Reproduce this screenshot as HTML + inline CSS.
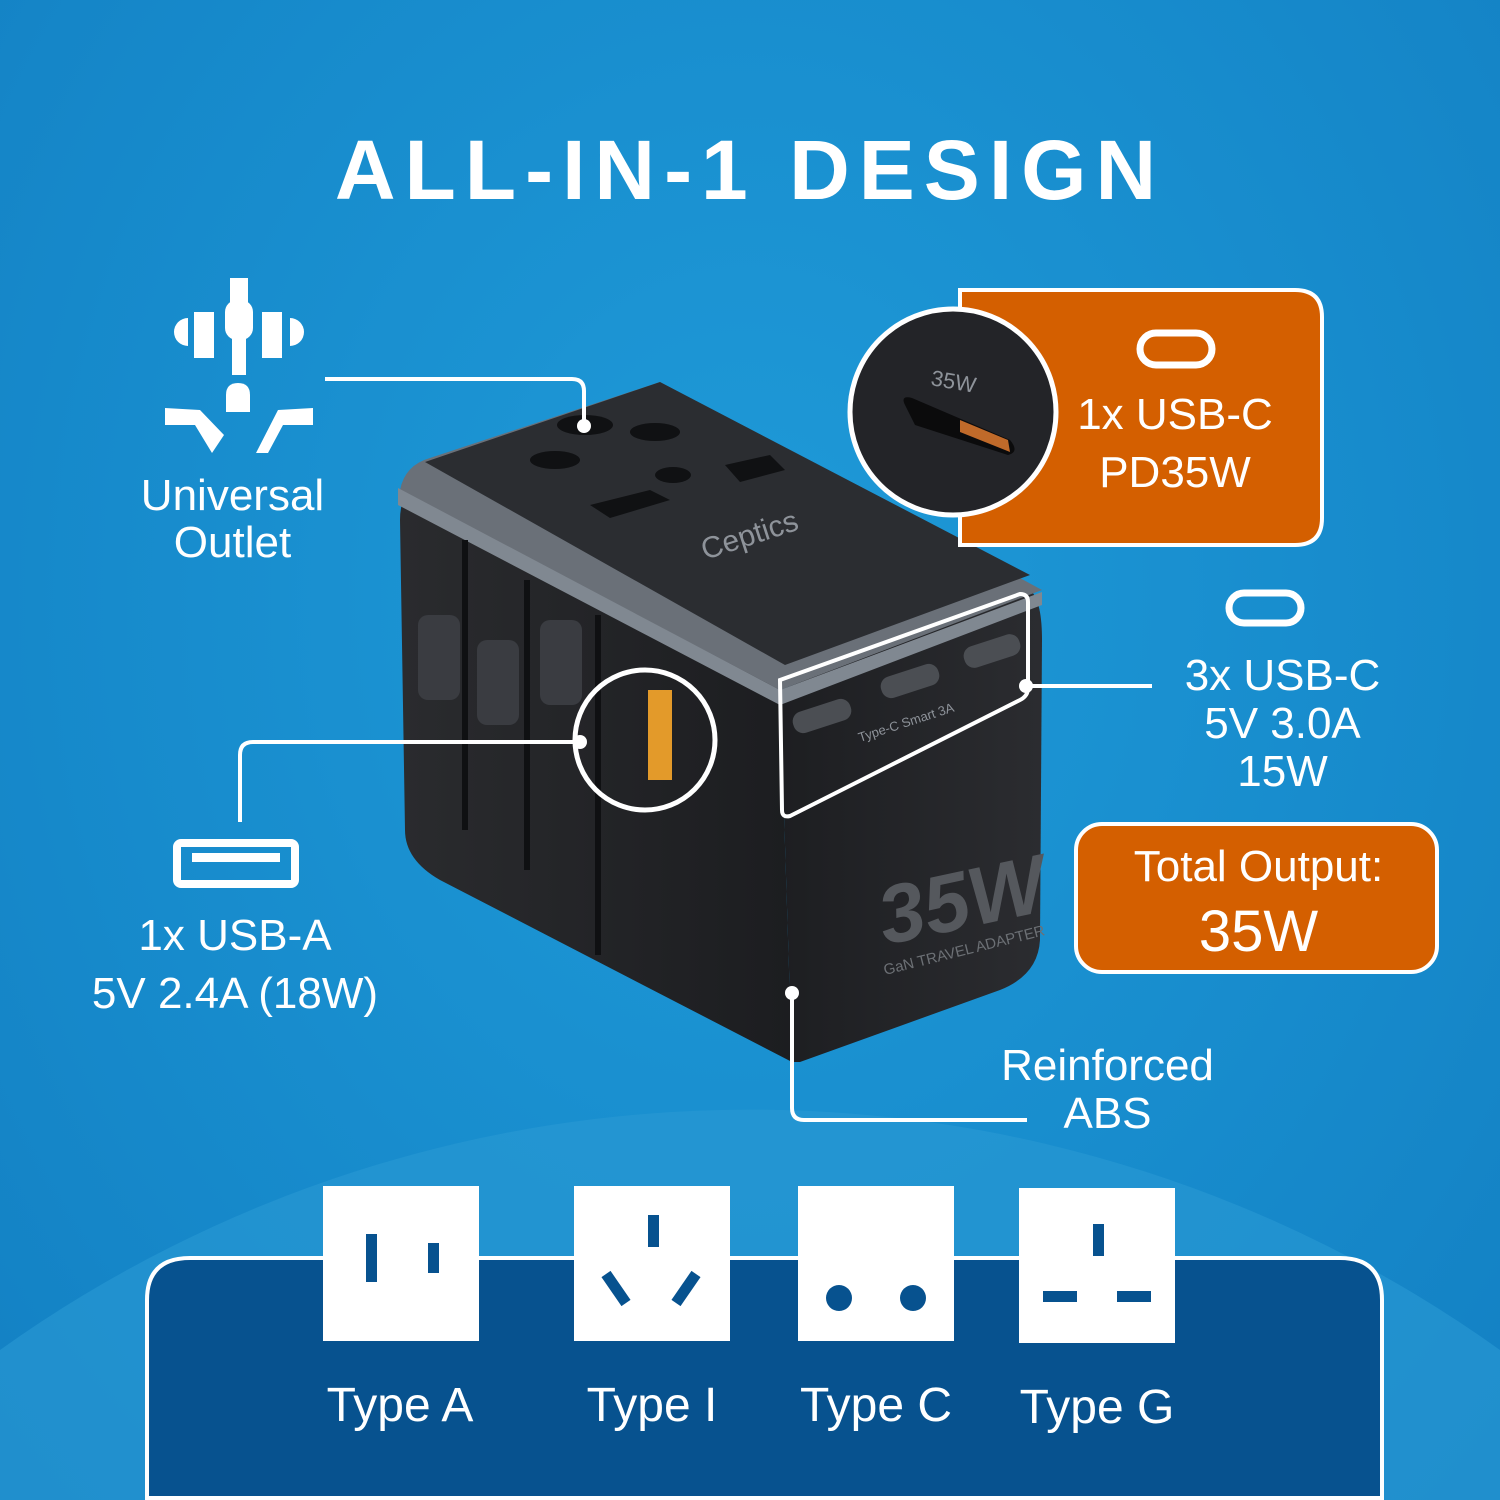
<!DOCTYPE html>
<html><head><meta charset="utf-8"><style>
html,body{margin:0;padding:0;width:1500px;height:1500px;overflow:hidden}
body{position:relative;background:radial-gradient(ellipse at 50% 40%,#1f9ad8 0%,#178bcc 60%,#1380c3 100%);font-family:"Liberation Sans",sans-serif;color:#fff}
.t{position:absolute;text-align:center;white-space:nowrap}
svg{overflow:hidden;display:block}
</style></head><body>
<svg width="1500" height="1500" viewBox="0 0 1500 1500" style="position:absolute;left:0;top:0">
<defs>
<linearGradient id="lf" x1="0" y1="0" x2="1" y2="0"><stop offset="0" stop-color="#2a2b2e"/><stop offset="1" stop-color="#1c1d20"/></linearGradient>
<linearGradient id="rf" x1="0" y1="0" x2="1" y2="0"><stop offset="0" stop-color="#1d1e21"/><stop offset="1" stop-color="#2b2c30"/></linearGradient>
</defs>
<path d="M0 1500 L0 1350 A1290 1290 0 0 1 1500 1350 L1500 1500 Z" fill="#2a9ad3" opacity="0.6"/>
<path d="M147 1498 V1300 Q147 1258 190 1258 H1340 Q1382 1258 1382 1300 V1498 Z" fill="#07528f" stroke="#fff" stroke-width="4"/>
<rect x="323" y="1186" width="156" height="155" fill="#fff"/>
<rect x="366" y="1234" width="11" height="48" fill="#07528f"/><rect x="428" y="1243" width="11" height="30" fill="#07528f"/>
<rect x="574" y="1186" width="156" height="155" fill="#fff"/>
<rect x="648" y="1215" width="11" height="32" fill="#07528f"/>
<line x1="606" y1="1274" x2="626" y2="1303" stroke="#07528f" stroke-width="11"/><line x1="696" y1="1274" x2="676" y2="1303" stroke="#07528f" stroke-width="11"/>
<rect x="798" y="1186" width="156" height="155" fill="#fff"/>
<circle cx="839" cy="1298" r="13" fill="#07528f"/><circle cx="913" cy="1298" r="13" fill="#07528f"/>
<rect x="1019" y="1188" width="156" height="155" fill="#fff"/>
<rect x="1093" y="1224" width="11" height="32" fill="#07528f"/><rect x="1043" y="1291" width="34" height="11" fill="#07528f"/><rect x="1117" y="1291" width="34" height="11" fill="#07528f"/>
<path d="M400 520 Q400 480 440 470 L780 690 L792 1062 L440 880 Q405 860 405 830 Z" fill="url(#lf)"/>
<path d="M780 690 L1030 590 Q1042 600 1042 640 L1040 940 Q1038 975 1000 990 L800 1062 L792 1062 Z" fill="url(#rf)"/>
<path d="M400 490 Q405 465 430 458 L660 382 L1042 590 L780 690 Z" fill="#6a7078"/>
<path d="M425 462 L660 382 L1030 575 L785 665 Z" fill="#2b2d31"/>
<path d="M398 488 L780 690 L1042 592 L1042 605 L780 705 L398 505 Z" fill="#808891"/>
<g fill="#101113"><ellipse cx="585" cy="425" rx="28" ry="10"/><ellipse cx="555" cy="460" rx="25" ry="9"/><ellipse cx="655" cy="432" rx="25" ry="9"/><ellipse cx="673" cy="475" rx="18" ry="8"/><path d="M590 505 L650 490 L670 500 L610 518 Z"/><path d="M725 465 L770 455 L785 470 L740 482 Z"/></g>
<text x="705" y="560" fill="#8e939a" font-size="30" transform="rotate(-18 705 560)">Ceptics</text>
<g fill="#3a3c41"><rect x="418" y="615" width="42" height="85" rx="10"/><rect x="477" y="640" width="42" height="85" rx="10"/><rect x="540" y="620" width="42" height="85" rx="10"/></g>
<g stroke="#0f1012" stroke-width="6" fill="none"><path d="M465 540 V830"/><path d="M527 580 V870"/><path d="M598 615 V955"/></g>
<rect x="648" y="690" width="24" height="90" fill="#e39a2a"/>
<g fill="#4b4e53"><rect x="792" y="705" width="60" height="22" rx="10" transform="rotate(-18 822 716)"/><rect x="880" y="670" width="60" height="22" rx="10" transform="rotate(-18 910 681)"/><rect x="963" y="640" width="58" height="22" rx="10" transform="rotate(-18 992 651)"/></g>
<text x="860" y="742" fill="#8e939a" font-size="13" transform="rotate(-18 860 742)">Type-C Smart 3A</text>
<text x="885" y="945" fill="#55585d" font-size="82" font-weight="bold" font-style="italic" transform="rotate(-12 885 945)">35W</text>
<text x="885" y="975" fill="#6c7075" font-size="15" transform="rotate(-14 885 975)">GaN TRAVEL ADAPTER</text>
<path d="M780 680 L1020 594 Q1028 594 1028 602 L1028 688 Q1028 696 1020 700 L790 816 Q782 818 782 810 Z" fill="none" stroke="#fff" stroke-width="4"/>
<circle cx="645" cy="740" r="70" fill="none" stroke="#fff" stroke-width="5"/>
<path d="M960 290 H1295 Q1322 290 1322 317 V518 Q1322 545 1295 545 H960 Z" fill="#d45f00" stroke="#fff" stroke-width="4"/>
<circle cx="953" cy="412" r="103" fill="#232428" stroke="#fff" stroke-width="5"/>
<path d="M905 405 Q900 395 912 398 L1010 440 Q1020 452 1008 455 L915 425 Z" fill="#0b0b0c"/>
<path d="M960 420 L1008 440 L1010 452 L960 432 Z" fill="#c06a2a"/>
<text x="930" y="385" fill="#8e939a" font-size="22" transform="rotate(10 930 385)">35W</text>
<rect x="1140" y="333" width="72" height="32" rx="16" fill="none" stroke="#fff" stroke-width="7"/>
<rect x="1076" y="824" width="361" height="148" rx="26" fill="#d45f00" stroke="#fff" stroke-width="4"/>
<rect x="1229" y="593" width="72" height="30" rx="15" fill="none" stroke="#fff" stroke-width="7"/>
<rect x="177" y="843" width="118" height="41" rx="4" fill="none" stroke="#fff" stroke-width="8"/>
<rect x="192" y="853" width="88" height="9" fill="#fff"/>
<g stroke="#fff" stroke-width="4" fill="none">
<path d="M325 379 H572 Q584 379 584 391 V426"/>
<path d="M240 822 V755 Q240 742 253 742 H580"/>
<path d="M1026 686 H1152"/>
<path d="M792 993 V1108 Q792 1120 804 1120 H1027"/>
</g>
<g fill="#fff"><circle cx="584" cy="426" r="7"/><circle cx="580" cy="742" r="7"/><circle cx="1026" cy="686" r="7"/><circle cx="792" cy="993" r="7"/></g>
<g fill="#fff">
<rect x="230" y="278" width="18" height="40"/><rect x="225" y="300" width="28" height="40" rx="12"/><rect x="232" y="330" width="14" height="45"/>
<path d="M188 318 A14 14 0 0 0 188 346 Z"/><rect x="194" y="312" width="20" height="46"/>
<path d="M290 318 A14 14 0 0 1 290 346 Z"/><rect x="262" y="312" width="20" height="46"/>
<path d="M226 412 V395 Q226 383 238 383 Q250 383 250 395 V412 Z"/>
<path d="M165 408 L200 410 L224 435 L212 453 L195 425 L165 425 Z"/>
<path d="M313 408 L278 410 L256 453 L268 453 L283 425 L313 425 Z"/>
</g>
</svg>
<div class="t" style="left:0;width:1500px;top:122px;font-size:84px;font-weight:bold;letter-spacing:9px">ALL-IN-1 DESIGN</div>
<div class="t" style="left:110px;width:245px;top:472px;font-size:44px;line-height:47px">Universal<br>Outlet</div>
<div class="t" style="left:1050px;width:250px;top:386px;font-size:44px;line-height:58px">1x USB-C<br>PD35W</div>
<div class="t" style="left:1160px;width:245px;top:652px;font-size:44px;line-height:48px">3x USB-C<br>5V 3.0A<br>15W</div>
<div class="t" style="left:1076px;width:365px;top:842px;font-size:44px">Total Output:</div>
<div class="t" style="left:1076px;width:365px;top:898px;font-size:58px">35W</div>
<div class="t" style="left:60px;width:350px;top:907px;font-size:44px;line-height:58px">1x USB-A<br>5V 2.4A (18W)</div>
<div class="t" style="left:960px;width:295px;top:1042px;font-size:44px;line-height:48px">Reinforced<br>ABS</div>
<div class="t" style="left:300px;width:200px;top:1378px;font-size:48px">Type A</div>
<div class="t" style="left:552px;width:200px;top:1378px;font-size:48px">Type I</div>
<div class="t" style="left:776px;width:200px;top:1378px;font-size:48px">Type C</div>
<div class="t" style="left:997px;width:200px;top:1380px;font-size:48px">Type G</div>
</body></html>
